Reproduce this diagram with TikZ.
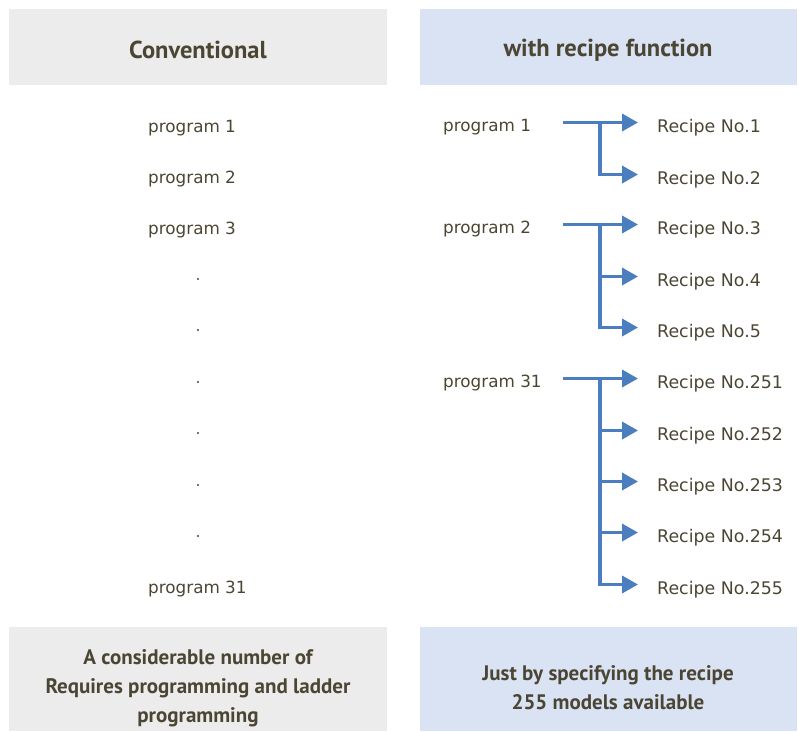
\documentclass[tikz,border=0pt]{standalone}
\usepackage{fontspec}
\setmainfont{DejaVu Sans}
\newfontfamily\headfont{PT Sans Bold}
\usetikzlibrary{arrows.meta}

\definecolor{ink}{HTML}{4B4634}
\definecolor{greybox}{HTML}{ECECEC}
\definecolor{bluebox}{HTML}{DAE3F3}
\definecolor{flowblue}{HTML}{4A7EBF}

\tikzset{
  head/.style={font=\headfont\fontsize{24.5}{28}\selectfont, text=ink},
  foot/.style={font=\headfont\fontsize{21}{29}\selectfont, text=ink, align=center},
  prog/.style={font=\fontsize{16.8}{20}\selectfont, text=ink, anchor=west, inner sep=0pt, yshift=-1.5pt},
  recipe/.style={prog, inner sep=3pt, font=\fontsize{17.4}{20}\selectfont},
  flow/.style={draw=flowblue, line width=3.6pt, -{Triangle[length=16pt,width=17pt]}, shorten >=16pt},
  dotmark/.style={circle, fill=ink, inner sep=0pt, minimum size=2.4pt}
}

\begin{document}
\begin{tikzpicture}[x=1pt,y=-1pt]

      \useasboundingbox (0,0) rectangle (799,731);

      \fill[greybox] (9,9) rectangle (387,85);
      \fill[bluebox] (420,9) rectangle (797,85);
      \fill[greybox] (9,627) rectangle (387,731);
      \fill[bluebox] (420,627) rectangle (797,731);

      \node[head] (hconv) at (198,50) {Conventional};
      \node[head] (hrecipe) at (608,50) {with recipe function};

      % conventional column
      \node[prog] (c1) at (148,127) {program 1};
      \node[prog] (c2) at (148,178) {program 2};
      \node[prog] (c3) at (148,229) {program 3};
      \foreach \y [count=\i] in {279,330,382,433,485,536}
        \node[dotmark] (d\i) at (198,\y) {};
      \node[prog] (c31) at (148,588) {program 31};

      % recipe column
      \node[prog] (p1) at (443,126) {program 1};
      \node[prog] (p2) at (443,228) {program 2};
      \node[prog] (p31) at (443,382) {program 31};

      \node[recipe] (r1) at (654,126) {Recipe No.1};
      \node[recipe] (r2) at (654,178) {Recipe No.2};
      \node[recipe] (r3) at (654,228) {Recipe No.3};
      \node[recipe] (r4) at (654,280) {Recipe No.4};
      \node[recipe] (r5) at (654,331) {Recipe No.5};
      \node[recipe] (r251) at (654,382) {Recipe No.251};
      \node[recipe] (r252) at (654,434) {Recipe No.252};
      \node[recipe] (r253) at (654,485) {Recipe No.253};
      \node[recipe] (r254) at (654,536) {Recipe No.254};
      \node[recipe] (r255) at (654,588) {Recipe No.255};

      \coordinate (s1) at (563,122.5);
      \coordinate (b1) at (600,122.5);
      \coordinate (s2) at (563,224.5);
      \coordinate (b2) at (600,224.5);
      \coordinate (s31) at (563,378.5);
      \coordinate (b31) at (600,378.5);

      \draw[flow] (s1) -- (s1 -| r1.west);
      \draw[flow] (b1) |- ([yshift=5pt]r2.west);

      \draw[flow] (s2) -- (s2 -| r3.west);
      \draw[flow] (b2 |- r4.west) ++(0,-5) -- ([yshift=5pt]r4.west);
      \draw[flow] (b2) |- ([yshift=5pt]r5.west);

      \draw[flow] (s31) -- (s31 -| r251.west);
      \draw[flow] (b31 |- r252.west) ++(0,-5) -- ([yshift=5pt]r252.west);
      \draw[flow] (b31 |- r253.west) ++(0,-5) -- ([yshift=5pt]r253.west);
      \draw[flow] (b31 |- r254.west) ++(0,-5) -- ([yshift=5pt]r254.west);
      \draw[flow] (b31) |- ([yshift=5pt]r255.west);

      \node[foot] (fconv) at (198,688) {A considerable number of\\Requires programming and ladder\\programming};
      \node[foot] (frecipe) at (608,688) {Just by specifying the recipe\\255 models available};

\end{tikzpicture}
\end{document}
